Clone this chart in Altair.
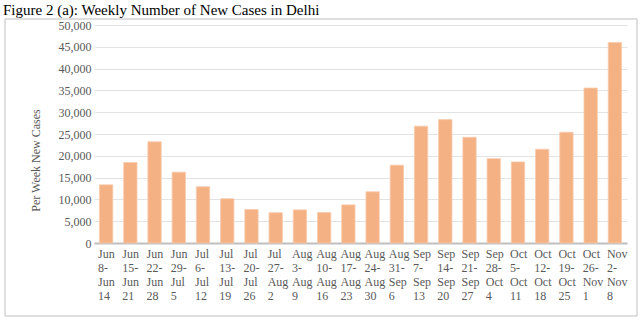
import altair as alt
import pandas as pd

weeks = ["Jun 8-Jun 14", "Jun 15-Jun 21", "Jun 22-Jun 28", "Jun 29-Jul 5",
         "Jul 6-Jul 12", "Jul 13-Jul 19", "Jul 20-Jul 26", "Jul 27-Aug 2",
         "Aug 3-Aug 9", "Aug 10-Aug 16", "Aug 17-Aug 23", "Aug 24-Aug 30",
         "Aug 31-Sep 6", "Sep 7-Sep 13", "Sep 14-Sep 20", "Sep 21-Sep 27",
         "Sep 28-Oct 4", "Oct 5-Oct 11", "Oct 12-Oct 18", "Oct 19-Oct 25",
         "Oct 26-Nov 1", "Nov 2-Nov 8"]
new_cases = [13350, 18450, 23200, 16250, 12900, 10150, 7700, 6950,
             7600, 7000, 8750, 11750, 17850, 26800, 28300, 24250,
             19350, 18600, 21500, 25400, 35550, 46000]
y_ticks = [0, 5000, 10000, 15000, 20000, 25000, 30000, 35000, 40000, 45000, 50000]

title_text = "Figure 2 (a): Weekly Number of New Cases in Delhi"
y_title = "Per Week New Cases"

df = pd.DataFrame({"week": weeks, "cases": new_cases})

FONT = "Liberation Serif"
GREY = "#595959"

bars = alt.Chart(df).mark_bar(
    color="#F4B183", stroke="#F8CBAD", strokeWidth=0.8
).encode(
    x=alt.X("week:N", sort=weeks,
            scale=alt.Scale(paddingInner=0.45, paddingOuter=0.225),
            axis=alt.Axis(title=None, labelAngle=0, ticks=False, grid=False,
                          domainColor="#bfbfbf", domainWidth=2,
                          labelAlign="left", labelOffset=-8, labelBaseline="top",
                          labelPadding=5, labelLineHeight=14,
                          labelExpr="split(replace(datum.label, '-', '- '), ' ')",
                          labelFont=FONT, labelFontSize=12, labelColor=GREY)),
    y=alt.Y("cases:Q", scale=alt.Scale(domain=[0, 50000], nice=False),
            axis=alt.Axis(values=y_ticks, format=",d", ticks=False, domain=False,
                          gridColor="#e3e3e3", labelPadding=3,
                          labelFont=FONT, labelFontSize=12, labelColor=GREY,
                          title=y_title, titleFont=FONT, titleFontSize=12,
                          titleFontWeight="normal", titleColor=GREY,
                          titleX=-59, titleY=135, titleAlign="center",
                          titleBaseline="middle", titleAngle=270)),
)

border = alt.Chart(alt.Data(values=[{}])).mark_rect(
    filled=False, stroke="#bfbfbf", strokeWidth=1
).encode(
    x=alt.value(-89), x2=alt.value(543), y=alt.value(-6), y2=alt.value(291)
)

chart = alt.layer(bars, border).properties(
    width=533, height=218,
    padding={"left": 94, "top": 25, "right": 13, "bottom": 78},
    autosize=alt.AutoSizeParams(type="none"),
    title=alt.Title(title_text, anchor="start", frame="group", dx=-91,
                    offset=1, font=FONT, fontSize=15, fontWeight="normal",
                    color="black"),
).configure_view(stroke=None).configure_axis(labelFont=FONT, titleFont=FONT)

chart.save("out.html", embed_options={"renderer": "svg", "actions": False})
